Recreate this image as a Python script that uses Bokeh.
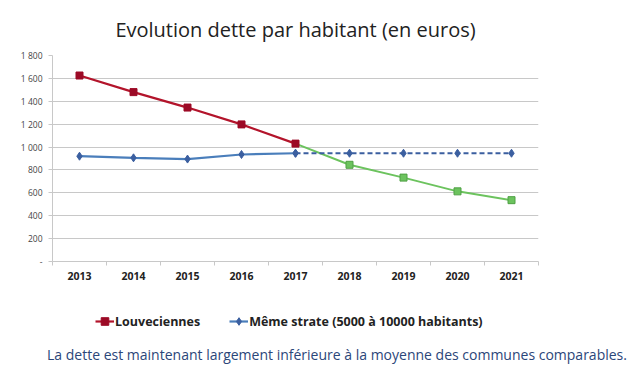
from bokeh.plotting import figure
from bokeh.layouts import column
from bokeh.models import (FixedTicker, CustomJSTickFormatter, Legend, LegendItem,
                          Range1d, Div)
from bokeh.embed import file_html
from bokeh.resources import INLINE

years = [2013, 2014, 2015, 2016, 2017, 2018, 2019, 2020, 2021]
louv_years = [2013, 2014, 2015, 2016, 2017]
louv_values = [1625, 1480, 1345, 1198, 1030]
proj_years = [2017, 2018, 2019, 2020, 2021]
proj_values = [1030, 845, 733, 613, 536]
strate_years = [2013, 2014, 2015, 2016, 2017]
strate_values = [920, 906, 895, 935, 946]
strate_proj_years = [2017, 2018, 2019, 2020, 2021]
strate_proj_values = [946, 946, 946, 946, 946]
y_ticks = [0, 200, 400, 600, 800, 1000, 1200, 1400, 1600, 1800]
series_names = ["Louveciennes", "Même strate (5000 à 10000 habitants)"]
title_text = "Evolution dette par habitant (en euros)"
caption_text = "La dette est maintenant largement inférieure à la moyenne des communes comparables."

RED = "#B3142B"
RED_M = "#9C0A26"
BLUE = "#4A7EBB"
BLUE_M = "#3B5FA0"
GREEN = "#6CC35E"
W = 624

# main chart
p = figure(width=W, height=296, output_backend="svg", toolbar_location=None,
           x_range=Range1d(years[0] - 0.5, years[-1] + 0.5),
           y_range=Range1d(y_ticks[0], y_ticks[-1]),
           min_border_left=52, min_border_right=86, min_border_top=0,
           min_border_bottom=35)
p.outline_line_color = None
p.background_fill_color = "white"
p.border_fill_color = "white"

p.title.text = title_text
p.title.align = "center"
p.title.text_font = "Open Sans"
p.title.text_font_style = "normal"
p.title.text_font_size = "20px"
p.title.text_color = "#222222"
p.title.standoff = 26

p.xgrid.grid_line_color = None
p.ygrid.grid_line_color = "#C8C8C8"
p.ygrid.grid_line_width = 1
p.yaxis.ticker = FixedTicker(ticks=y_ticks)
p.yaxis.formatter = CustomJSTickFormatter(code="""
if (tick == 0) { return '-'; }
var s = Math.round(tick).toString();
return s.replace(/\\B(?=(\\d{3})+(?!\\d))/g, ' ');
""")
p.yaxis.axis_line_color = "#C8C8C8"
p.yaxis.major_tick_line_color = "#C8C8C8"
p.yaxis.major_tick_out = 4
p.yaxis.major_tick_in = 0
p.yaxis.minor_tick_line_color = None
p.yaxis.major_label_text_font = "Open Sans"
p.yaxis.major_label_text_font_size = "8.5px"
p.yaxis.major_label_text_color = "#444444"
p.yaxis.major_label_standoff = 6

boundaries = [y - 0.5 for y in years] + [years[-1] + 0.5]
p.xaxis.ticker = FixedTicker(ticks=years, minor_ticks=boundaries)
p.xaxis.formatter = CustomJSTickFormatter(code="return String(Math.round(tick));")
p.xaxis.axis_line_color = "#C8C8C8"
p.xaxis.major_tick_line_color = None
p.xaxis.minor_tick_line_color = "#C8C8C8"
p.xaxis.minor_tick_out = 4
p.xaxis.minor_tick_in = 0
p.xaxis.major_label_text_font = "Open Sans"
p.xaxis.major_label_text_font_style = "bold"
p.xaxis.major_label_text_font_size = "10.5px"
p.xaxis.major_label_text_color = "#222222"
p.xaxis.major_label_standoff = 4

p.line(proj_years, proj_values, line_color=GREEN, line_width=2)
p.scatter(proj_years[1:], proj_values[1:], marker="square", size=7,
          fill_color=GREEN, line_color="#4FA044")
p.line(louv_years, louv_values, line_color=RED, line_width=2.2)
p.scatter(louv_years, louv_values, marker="square", size=7,
          fill_color=RED_M, line_color=RED_M)
p.line(strate_proj_years, strate_proj_values, line_color=BLUE_M,
       line_width=2.2, line_dash="5 3")
p.scatter(strate_proj_years, strate_proj_values, marker="diamond", size=8,
          fill_color=BLUE_M, line_color=BLUE_M)
p.line(strate_years, strate_values, line_color=BLUE, line_width=2.2)
p.scatter(strate_years, strate_values, marker="diamond", size=8,
          fill_color=BLUE_M, line_color=BLUE_M)

# legend strip (same borders as the chart so frames line up)
p2 = figure(width=W, height=44, output_backend="svg", toolbar_location=None,
            x_axis_type=None, y_axis_type=None,
            x_range=Range1d(0, 1), y_range=Range1d(0, 1),
            min_border_left=52, min_border_right=86, min_border_top=0,
            min_border_bottom=0)
p2.outline_line_color = None
p2.xgrid.grid_line_color = None
p2.ygrid.grid_line_color = None
nan = float("nan")
l_red = p2.line([nan], [nan], line_color=RED, line_width=2.2)
m_red = p2.scatter([nan], [nan], marker="square", size=5, fill_color=RED_M, line_color=RED_M)
l_blue = p2.line([nan], [nan], line_color=BLUE, line_width=2.2)
m_blue = p2.scatter([nan], [nan], marker="diamond", size=6, fill_color=BLUE_M, line_color=BLUE_M)

legend = Legend(items=[
    LegendItem(label=series_names[0], renderers=[l_red, m_red]),
    LegendItem(label=series_names[1], renderers=[l_blue, m_blue]),
], orientation="horizontal", location=(43, 9))
legend.label_text_font = "Open Sans"
legend.label_text_font_style = "bold"
legend.label_text_font_size = "12.5px"
legend.label_text_color = "#222222"
legend.border_line_color = None
legend.background_fill_alpha = 0
legend.glyph_width = 19
legend.label_standoff = 1
legend.spacing = 29
legend.margin = 0
legend.padding = 4
p2.add_layout(legend, "center")

caption = Div(text=caption_text, width=W, height=24,
              styles={"font-family": "Open Sans", "font-size": "14px",
                      "color": "#2B4679", "text-align": "center",
                      "padding-left": "40px", "box-sizing": "border-box",
                      "white-space": "nowrap", "line-height": "20px"})

open("out.html", "w").write(file_html(column(p, p2, caption, spacing=0), INLINE))
